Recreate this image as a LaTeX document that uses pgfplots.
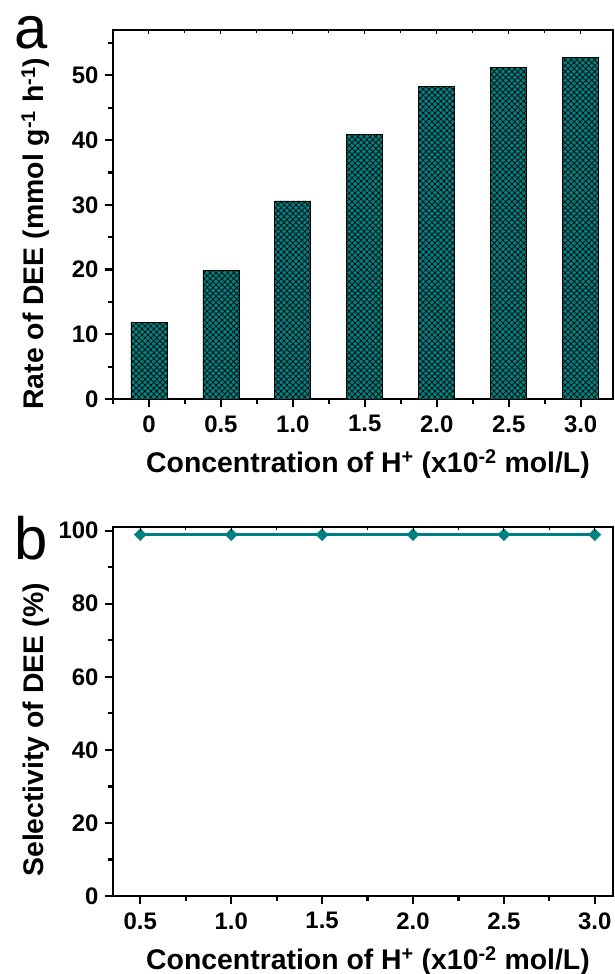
\documentclass[border=0pt]{standalone}
\usepackage{pgfplots}
\pgfplotsset{compat=1.18}
\usepackage{fontspec}
\setmainfont{Liberation Sans}
\usetikzlibrary{patterns.meta}
\definecolor{tealc}{RGB}{0,128,128}
\newcommand{\tickfont}{\fontsize{24}{26}\selectfont\bfseries}
\newcommand{\labfont}{\fontsize{28.5}{31}\selectfont\bfseries}
\pgfplotsset{
  common/.style={
    width=500bp, height=369bp, scale only axis,
    /pgf/number format/assume math mode=true,
    axis line style={line width=2.8bp},
    every tick/.style={line width=2.2bp, black},
    major tick length=8bp, minor tick length=5bp,
    tick align=outside,
    xtick pos=bottom, ytick pos=left,
    ticklabel style={font=\tickfont},
    xticklabel style={yshift=-5bp},
    yticklabel style={xshift=-3bp},
    label style={font=\labfont},
    xlabel style={at={(axis description cs:0.51,-0.198)}, anchor=base},
  },
  topticks/.style={
    width=500bp, height=369bp, scale only axis,
    axis x line*=top, hide y axis,
    axis line style={line width=2.8bp},
    tick align=inside, xticklabels={},
    major tick length=4bp, minor tick length=3bp,
    every tick/.style={line width=1bp, black},
  }
}
\begin{document}
\begin{tikzpicture}
% ---------- panel a ----------
\begin{axis}[common,
  at={(113bp,-399bp)}, anchor=south west,
  xmin=-0.5, xmax=6.45, ymin=0, ymax=57,
  xtick={0,1,2,3,4,5,6},
  xticklabels={0,0.5,1.0,1.5,2.0,2.5,3.0},
  minor xtick={-0.5,0.5,1.5,2.5,3.5,4.5,5.5},
  ytick={0,10,20,30,40,50},
  minor ytick={5,15,25,35,45,55},
  xlabel={Concentration of H\textsuperscript{+} (x10\textsuperscript{-2} mol/L)},
  ylabel={Rate of DEE (mmol g\textsuperscript{-1} h\textsuperscript{-1})},
  ylabel style={at={(axis description cs:-0.138,0.448)}, anchor=base},
]
\addplot[ybar, bar width=36bp, fill=tealc, draw=black, line width=0.8bp,
  postaction={pattern={Lines[angle=45,distance=4.2pt,line width=0.7pt]}, pattern color=black},
  postaction={pattern={Lines[angle=-45,distance=4.2pt,line width=0.7pt]}, pattern color=black}]
coordinates {(0,11.8) (1,19.8) (2,30.6) (3,40.9) (4,48.3) (5,51.2) (6,52.8)};
\end{axis}
\begin{axis}[topticks,
  at={(113bp,-399bp)}, anchor=south west,
  xmin=-0.5, xmax=6.45, ymin=0, ymax=57,
  xtick={0,1,2,3,4,5,6},
  minor xtick={-0.5,0.5,1.5,2.5,3.5,4.5,5.5},
]
\end{axis}
% ---------- panel b ----------
\begin{axis}[common,
  at={(113bp,-896bp)}, anchor=south west,
  xmin=0.35, xmax=3.1, ymin=0, ymax=101,
  xtick={0.5,1.0,1.5,2.0,2.5,3.0},
  xticklabels={0.5,1.0,1.5,2.0,2.5,3.0},
  minor xtick={0.75,1.25,1.75,2.25,2.75},
  ytick={0,20,40,60,80,100},
  minor ytick={10,30,50,70,90},
  xlabel={Concentration of H\textsuperscript{+} (x10\textsuperscript{-2} mol/L)},
  ylabel={Selectivity of DEE (\%)},
  ylabel style={at={(axis description cs:-0.138,0.45)}, anchor=base},
]
\addplot[color=tealc, line width=2.4bp, mark=square*, mark size=4.2bp,
  mark options={rotate=45, fill=tealc, draw=tealc, line width=0.5bp}]
coordinates {(0.5,98.9) (1.0,98.9) (1.5,98.9) (2.0,98.9) (2.5,98.9) (3.0,98.9)};
\end{axis}
\begin{axis}[topticks,
  at={(113bp,-896bp)}, anchor=south west,
  xmin=0.35, xmax=3.1, ymin=0, ymax=101,
  xtick={0.5,1.0,1.5,2.0,2.5,3.0},
  minor xtick={0.75,1.25,1.75,2.25,2.75},
]
\end{axis}
% panel letters
\node[anchor=base west, inner sep=0pt, font=\fontsize{60}{60}\selectfont] at (14bp,-48bp) {a};
\node[anchor=base west, inner sep=0pt, font=\fontsize{60}{60}\selectfont] at (14bp,-559bp) {b};
\pgfresetboundingbox
\path[use as bounding box] (0,0) rectangle (615bp,-974bp);
\end{tikzpicture}
\end{document}
